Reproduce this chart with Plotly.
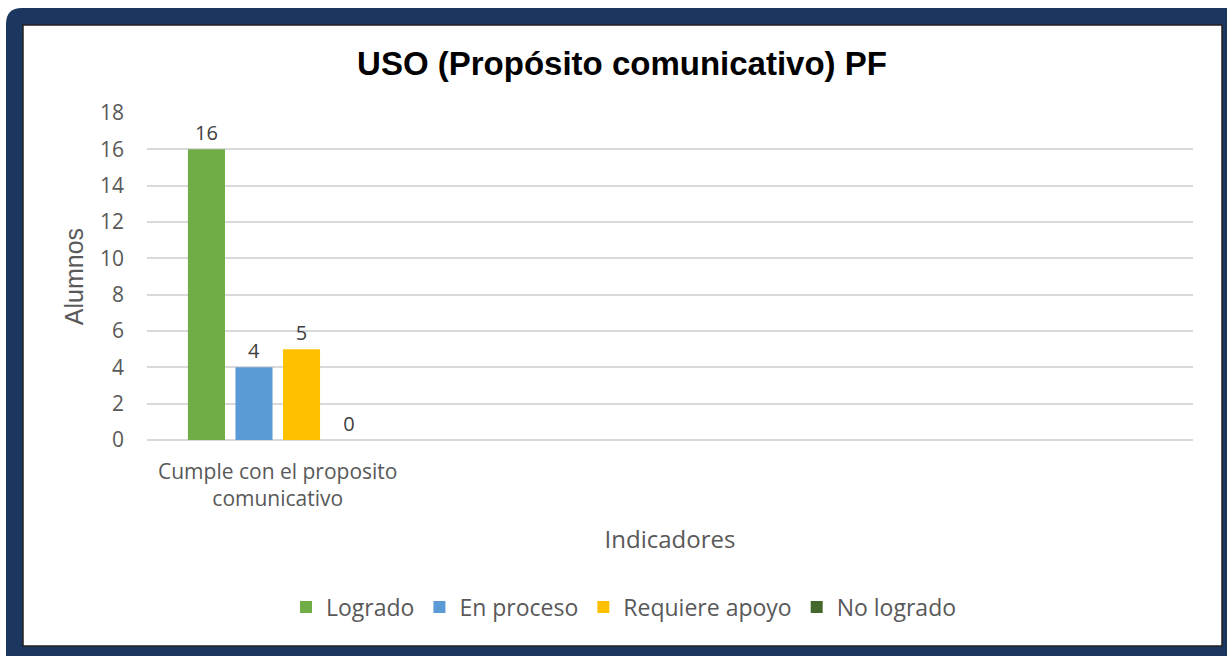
import plotly.graph_objects as go

# Data
categories = ["Cumple con el proposito<br>comunicativo"]
series_names = ["Logrado", "En proceso", "Requiere apoyo", "No logrado"]
series_values = [[16], [4], [5], [0]]
series_colors = ["#70AD47", "#5B9BD5", "#FFC000", "#43682B"]
y_ticks = [0, 2, 4, 6, 8, 10, 12, 14, 16, 18]

W, H = 1227, 656
# plot area in pixels
L, R, T, B = 147, 1193, 113, 440


def px_x(p):
    return (p - L) / (R - L)


def px_y(p):
    return (B - p) / (B - T)


fig = go.Figure()
for name, vals, col in zip(series_names, series_values, series_colors):
    fig.add_trace(go.Bar(
        x=categories, y=vals, name=name, marker_color=col,
        marker_line_width=0,
        text=[str(v) for v in vals], textposition="outside",
        textfont=dict(family="Open Sans", size=20, color="#404040"),
        cliponaxis=False,
    ))

# navy frame with rounded top-left corner
x0, y0, x1, y1 = px_x(6), px_y(8), px_x(1227), px_y(656)
r = 16
rx, ry = r / (R - L), r / (B - T)
frame_path = (f"M {x0},{y0 - ry} Q {x0},{y0} {x0 + rx},{y0} "
              f"L {x1},{y0} L {x1},{y1} L {x0},{y1} Z")
shapes = [
    dict(type="path", path=frame_path, xref="paper", yref="paper",
         fillcolor="#1B365F", line_width=0, layer="below"),
    dict(type="rect", xref="paper", yref="paper",
         x0=px_x(23), y0=px_y(25), x1=px_x(1222), y1=px_y(646),
         fillcolor="white", line=dict(color="#222222", width=1.5), layer="below"),
]

fig.update_layout(
    width=W, height=H,
    margin=dict(l=L, r=W - R, t=T, b=H - B, pad=0, autoexpand=False),
    paper_bgcolor="white", plot_bgcolor="rgba(0,0,0,0)",
    shapes=shapes,
    barmode="group", bargap=0.273, bargroupgap=0.22,
    uniformtext=dict(minsize=20, mode="show"),
    title=dict(text="<b>USO (Propósito comunicativo) PF</b>",
               font=dict(family="Liberation Sans", size=33, color="#000000"),
               x=622 / W, xanchor="center",
               y=1 - 63 / H, yanchor="middle", yref="container"),
    xaxis=dict(
        range=[-0.5, 3.5], showgrid=False, showline=False, zeroline=False,
        ticks="", ticklabelstandoff=17,
        tickfont=dict(family="Open Sans", size=21, color="#595959"),
        title=dict(text="Indicadores", standoff=19,
                   font=dict(family="Open Sans", size=24, color="#595959")),
        fixedrange=True,
    ),
    yaxis=dict(
        range=[0, 18], tickvals=y_ticks, showgrid=True, gridcolor="#D9D9D9",
        gridwidth=1.5, zeroline=True, zerolinecolor="#D9D9D9", zerolinewidth=1.5,
        showline=False, ticks="", ticklabelstandoff=22,
        tickfont=dict(family="Open Sans", size=21, color="#595959"),
        title=dict(text="Alumnos", standoff=9,
                   font=dict(family="Liberation Sans", size=25, color="#595959")),
    ),
    legend=dict(orientation="h", x=px_x(624), xanchor="center",
                y=px_y(607), yanchor="middle",
                font=dict(family="Open Sans", size=23, color="#595959"),
                itemwidth=30, traceorder="normal", bgcolor="rgba(0,0,0,0)"),
    showlegend=True,
)

fig.write_html("out.html")
